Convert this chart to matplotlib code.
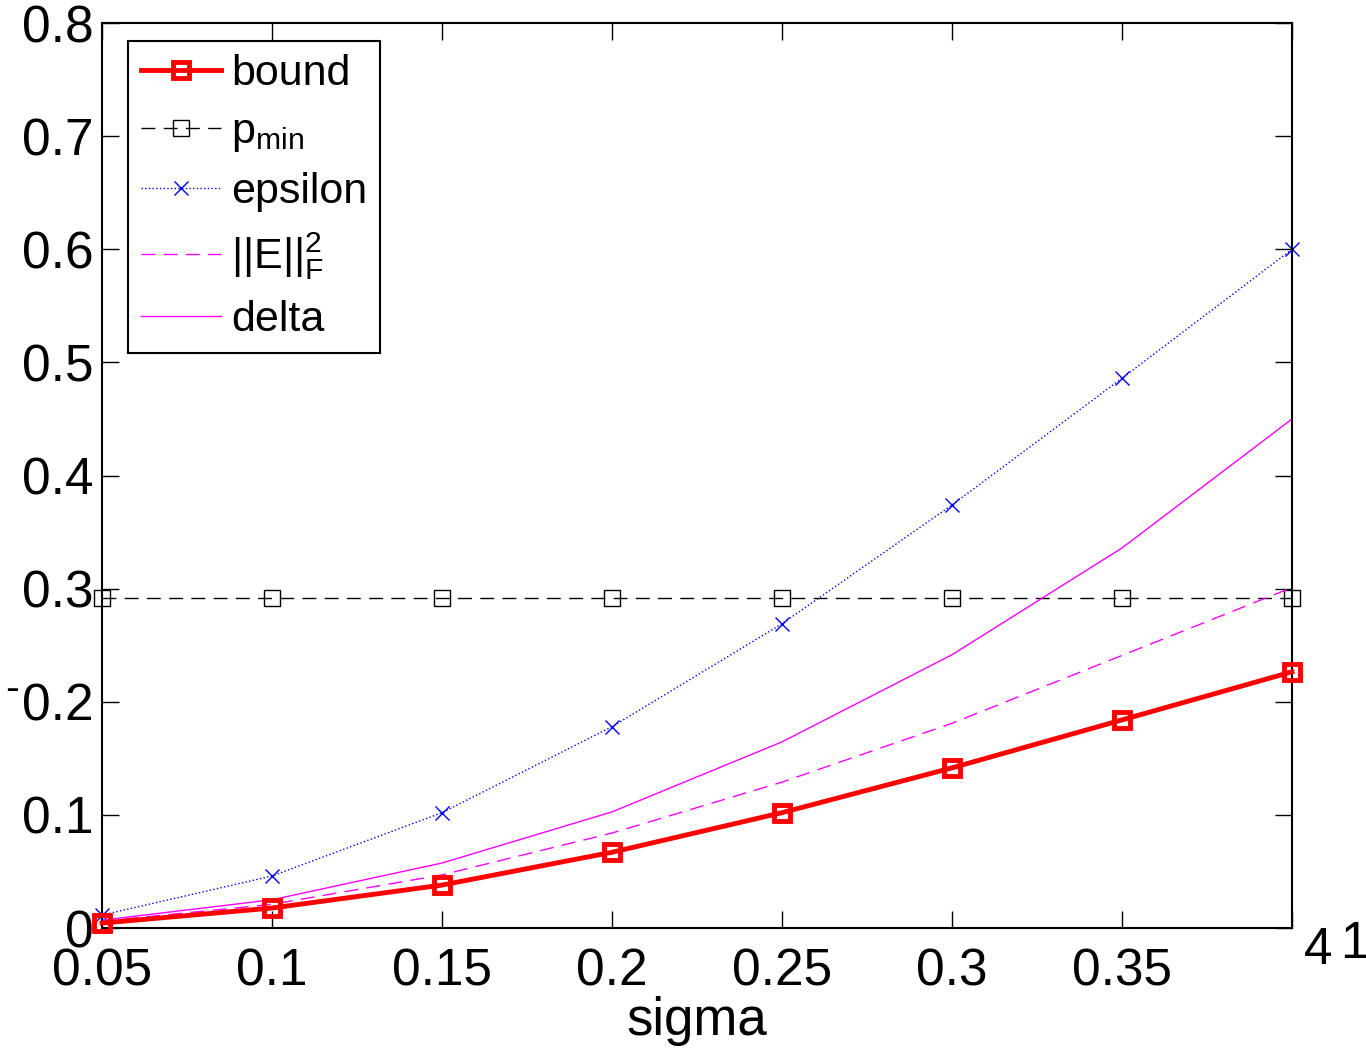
import numpy as np
from matplotlib import pyplot as plt

# 数据
sigma = [0.05, 0.1, 0.15, 0.2, 0.25, 0.3, 0.35, 0.4]
bound = [0.0044, 0.0177, 0.038, 0.067, 0.102, 0.1416, 0.184, 0.2265]
p_min = [0.292, 0.292, 0.292, 0.292, 0.292, 0.292, 0.292, 0.292]
epsilon = [0.0115, 0.046, 0.102, 0.178, 0.269, 0.374, 0.486, 0.600]
e_frob = [0.006, 0.021, 0.047, 0.084, 0.129, 0.181, 0.241, 0.301]
delta = [0.007, 0.025, 0.0575, 0.1027, 0.1646, 0.2416, 0.336, 0.450]
x_ticks = [0.05, 0.1, 0.15, 0.2, 0.25, 0.3, 0.35, 0.4]
x_labels = ['0.05', '0.1', '0.15', '0.2', '0.25', '0.3', '0.35', '']
y_ticks = [0, 0.1, 0.2, 0.3, 0.4, 0.5, 0.6, 0.7, 0.8]
y_labels = ['0', '0.1', '0.2', '0.3', '0.4', '0.5', '0.6', '0.7', '0.8']

plt.rcParams['font.family'] = ['Liberation Sans', 'DejaVu Sans']
plt.rcParams['mathtext.fontset'] = 'custom'
plt.rcParams['mathtext.rm'] = 'Liberation Sans'
plt.rcParams['mathtext.it'] = 'Liberation Sans'

fig = plt.figure(figsize=(13.66, 10.49), dpi=100)
ax = fig.add_axes([0.0747, 0.1153, 0.8711, 0.8627])

# 绘制曲线
ax.plot(sigma, bound, '-s', color='red', lw=3.5, ms=11, mfc='none', mew=3.5, label='bound',
        zorder=5, clip_on=False)
ax.plot(sigma, p_min, '--s', color='black', lw=1, ms=11, mfc='none', mew=1,
        dashes=(10, 6), label=r'$\mathregular{p_{min}}$', clip_on=False)
ax.plot(sigma, epsilon, ':x', color='blue', lw=1, ms=10, mew=1, label='epsilon', clip_on=False)
ax.plot(sigma, e_frob, '--', color='magenta', lw=1, dashes=(10, 6), label=r'$\mathregular{||E||_F^2}$')
ax.plot(sigma, delta, '-', color='magenta', lw=1, label='delta')

ax.set_xlim(0.05, 0.4)
ax.set_ylim(0, 0.8)
ax.set_xticks(x_ticks)
ax.set_xticklabels(x_labels)
ax.set_yticks(y_ticks)
ax.set_yticklabels(y_labels)
ax.tick_params(direction='in', length=12, width=1, labelsize=37, top=True, right=True, pad=6)
ax.tick_params(axis='x', pad=14)
for s in ax.spines.values():
    s.set_linewidth(1.5)

ax.set_xlabel('sigma', fontsize=38, labelpad=0)

# 被截断的刻度标签残留
fig.text(1318 / 1366, 1 - 951 / 1049, '4', fontsize=37, ha='center', va='center')
fig.text(1354 / 1366, 1 - 944 / 1049, '1', fontsize=37, ha='center', va='center')
fig.text(12 / 1366, 1 - 690 / 1049, '-', fontsize=30, ha='center', va='center')

leg = ax.legend(loc='upper left', bbox_to_anchor=(0.0218, 0.98), fontsize=31, handlelength=1.85,
                handletextpad=0.25, borderpad=0.3, labelspacing=0.42, fancybox=False,
                edgecolor='black', framealpha=1, borderaxespad=0)
leg.get_frame().set_linewidth(1.5)

fig.savefig('out.png', dpi=100)
